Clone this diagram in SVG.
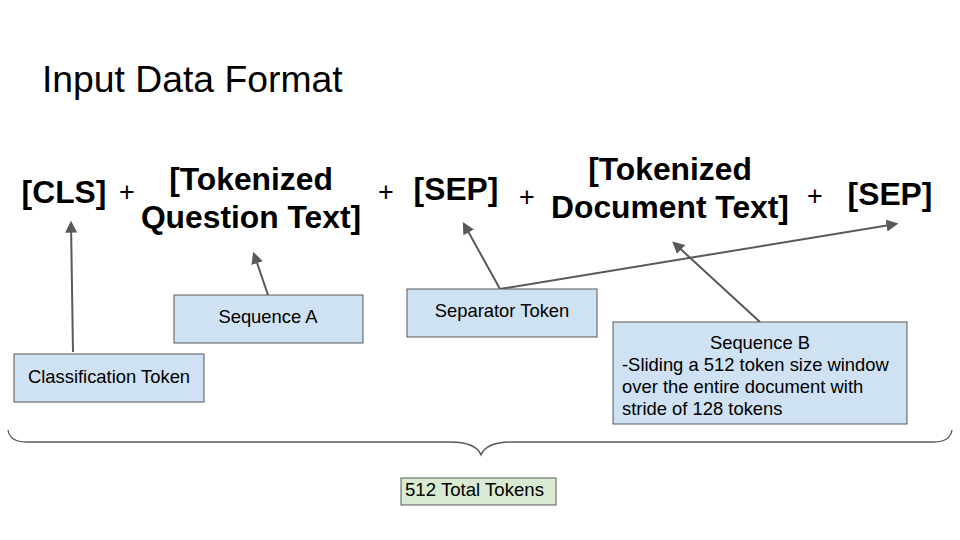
<svg xmlns="http://www.w3.org/2000/svg" width="960" height="540" viewBox="0 0 960 540">
<defs>
<marker id="ah" viewBox="0 0 10 10" refX="8" refY="5" markerWidth="6" markerHeight="6" orient="auto" markerUnits="strokeWidth">
<path d="M0,0 L10,5 L0,10 z" fill="#595959"/>
</marker>
<style>
.big{font-family:"Liberation Sans",Arial,sans-serif;font-weight:bold;font-size:31.8px;fill:#000}
.plus{font-family:"Liberation Sans",Arial,sans-serif;font-size:27px;fill:#000}
.lbl{font-family:"Liberation Sans",Arial,sans-serif;font-size:18.4px;fill:#000}
.box{fill:#cfe2f3;stroke:#595959;stroke-width:1}
.gbox{fill:#d9ead3;stroke:#595959;stroke-width:1}
.conn{stroke:#595959;stroke-width:2;fill:none}
</style>
</defs>
<rect width="960" height="540" fill="#fff"/>
<text x="42" y="92" font-family="Liberation Sans, Arial, sans-serif" font-size="37.3" fill="#000">Input Data Format</text>

<g id="tokens">
<text class="big" x="64" y="203" text-anchor="middle">[CLS]</text>
<text class="plus" x="127" y="201" text-anchor="middle">+</text>
<text class="big" x="251" y="190" text-anchor="middle">[Tokenized</text>
<text class="big" x="251" y="228" text-anchor="middle">Question Text]</text>
<text class="plus" x="386" y="201" text-anchor="middle">+</text>
<text class="big" x="456" y="200" text-anchor="middle">[SEP]</text>
<text class="plus" x="527" y="206" text-anchor="middle">+</text>
<text class="big" x="670" y="180" text-anchor="middle">[Tokenized</text>
<text class="big" x="670" y="218" text-anchor="middle">Document Text]</text>
<text class="plus" x="815" y="205" text-anchor="middle">+</text>
<text class="big" x="890" y="205" text-anchor="middle">[SEP]</text>
</g>

<g id="connectors">
<line class="conn" x1="73" y1="352" x2="71" y2="223" marker-end="url(#ah)"/>
<line class="conn" x1="268" y1="295" x2="254" y2="254" marker-end="url(#ah)"/>
<line class="conn" x1="500" y1="289" x2="464" y2="224" marker-end="url(#ah)"/>
<line class="conn" x1="500" y1="289" x2="896" y2="224" marker-end="url(#ah)"/>
<line class="conn" x1="760" y1="322" x2="674" y2="243" marker-end="url(#ah)"/>
</g>

<g id="node-classification">
<rect class="box" x="14" y="354" width="190" height="48"/>
<text class="lbl" x="109" y="383" text-anchor="middle">Classification Token</text>
</g>
<g id="node-seqA">
<rect class="box" x="174" y="295" width="189" height="48"/>
<text class="lbl" x="268" y="323" text-anchor="middle">Sequence A</text>
</g>
<g id="node-separator">
<rect class="box" x="407" y="289" width="190" height="48"/>
<text class="lbl" x="502" y="317" text-anchor="middle">Separator Token</text>
</g>
<g id="node-seqB">
<rect class="box" x="613" y="322" width="294" height="102"/>
<text class="lbl" x="760" y="349" text-anchor="middle">Sequence B</text>
<text class="lbl" x="622" y="371">-Sliding a 512 token size window</text>
<text class="lbl" x="622" y="393">over the entire document with</text>
<text class="lbl" x="622" y="415">stride of 128 tokens</text>
</g>

<g id="brace">
<path class="conn" style="stroke-width:1.3" d="M8,430 Q10,442 26,442 L450,442 Q476,442 481,455 Q486,442 512,442 L934,442 Q950,442 952,430"/>
</g>

<g id="node-total">
<rect class="gbox" x="401" y="478" width="155" height="27"/>
<text class="lbl" x="405" y="496" textLength="139" lengthAdjust="spacingAndGlyphs">512 Total Tokens</text>
</g>
</svg>
